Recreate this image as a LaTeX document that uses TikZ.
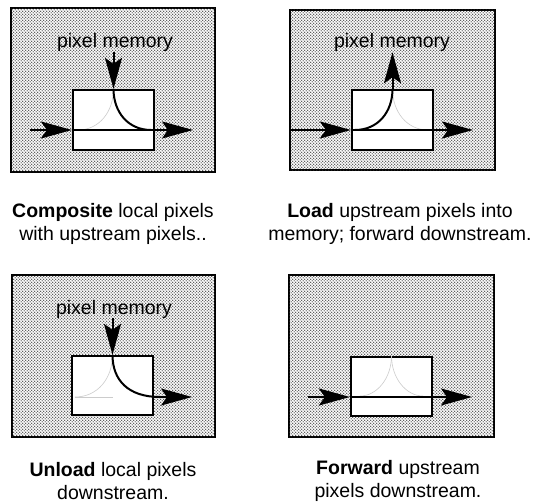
\documentclass[tikz,border=0pt]{standalone}
\usepackage{fontspec}
\setmainfont{Liberation Sans}
\usetikzlibrary{arrows.meta,patterns.meta,calc}
\tikzdeclarepattern{name=stipple, type=uncolored,
  bounding box={(0pt,0pt) and (3.4pt,3.4pt)}, tile size={(3.4pt,3.4pt)},
  code={\fill (0.85pt,0.85pt) circle (0.75pt); \fill (2.55pt,2.55pt) circle (0.75pt);}}
\begin{document}
\begin{tikzpicture}[x=1pt,y=-1pt,
  outerbox/.style={draw, line width=2.4pt, fill=white,
    postaction={pattern=stipple, pattern color=black!85},
    inner sep=0pt, minimum width=#1},
  innerbox/.style={draw, line width=2.2pt, fill=white, inner sep=0pt,
    minimum width=81pt, minimum height=#1},
  flow/.style={line width=2pt, -{Stealth[length=31pt,width=17pt,inset=6pt]}},
  plain/.style={line width=2pt},
  ghost/.style={draw=gray!40, line width=0.6pt},
  memlabel/.style={font=\fontsize{19.5}{23}\selectfont, anchor=base, inner sep=0pt},
  caption/.style={font=\fontsize{19.5}{23}\selectfont, align=center, inner sep=0pt}
]
\useasboundingbox (0,0) rectangle (535,503);

% ---------- Panel 1: Composite ----------
\node[outerbox=204pt, minimum height=164pt] (o1) at (113,90) {};
\node[innerbox=60pt] (i1) at (113.5,120) {};
\node[memlabel] (m1) at (115,48) {pixel memory};
\coordinate (l1) at (30,130);
\coordinate (r1) at (193,130);
\draw[ghost] (i1.north) .. controls (113.5,112) and (99,130) .. ([xshift=6pt,yshift=-10pt]i1.west);
\draw[flow] (m1.south -| i1.north) -- (i1.north);
\draw[flow] (l1) -- ([yshift=-10pt]i1.west);
\draw[plain] ([yshift=-10pt]i1.west) -- ([yshift=-10pt]i1.east);
\draw[plain] (i1.north) .. controls (113.5,112) and (128,130) .. ([xshift=-4pt,yshift=-10pt]i1.east);
\draw[flow] ([yshift=-10pt]i1.east) -- (r1);
\node[caption] (c1) at (113,224) {\textbf{Composite} local pixels\\with upstream pixels..};

% ---------- Panel 2: Load ----------
\node[outerbox=205pt, minimum height=160pt] (o2) at (392.5,90) {};
\node[innerbox=60pt] (i2) at (392.5,120) {};
\node[memlabel] (m2) at (392,48) {pixel memory};
\coordinate (l2) at (291,130);
\coordinate (r2) at (473,130);
\draw[ghost] (i2.north) .. controls (392.5,112) and (407,130) .. ([xshift=-6pt,yshift=-10pt]i2.east);
\draw[flow] (l2) -- ([yshift=-10pt]i2.west);
\draw[plain] ([yshift=-10pt]i2.west) -- ([yshift=-10pt]i2.east);
\draw[plain] ([xshift=4pt,yshift=-10pt]i2.west) .. controls (378,130) and (392.5,112) .. (i2.north);
\draw[flow] (i2.north) -- (m2.south -| i2.north);
\draw[flow] ([yshift=-10pt]i2.east) -- (r2);
\node[caption] (c2) at (400,224) {\textbf{Load} upstream pixels into\\memory; forward downstream.};

% ---------- Panel 3: Unload ----------
\node[outerbox=203pt, minimum height=162pt] (o3) at (113.5,356) {};
\node[innerbox=59pt] (i3) at (112.5,385.5) {};
\node[memlabel] (m3) at (114,314) {pixel memory};
\coordinate (r3) at (192,397);
\draw[ghost] (i3.north) .. controls (112.5,378) and (98,397) .. ([xshift=4pt,yshift=-11.5pt]i3.west);
\draw[ghost] ([xshift=4pt,yshift=-11.5pt]i3.west) -- (112.5,397);
\draw[flow] (m3.south -| i3.north) -- (i3.north);
\draw[plain] (i3.north) .. controls (112.5,380) and (128,397) .. (160,397);
\draw[flow] (158,397) -- (r3);
\node[caption] (c3) at (113,481) {\textbf{Unload} local pixels\\downstream.};

% ---------- Panel 4: Forward ----------
\node[outerbox=205pt, minimum height=162pt] (o4) at (391.5,356) {};
\node[innerbox=59pt] (i4) at (391.5,386.5) {};
\coordinate (l4) at (308,397);
\coordinate (r4) at (472,397);
\draw[ghost] (i4.north) .. controls (391.5,378) and (377,396) .. (360,396);
\draw[ghost] (i4.north) .. controls (391.5,378) and (406,396) .. (423,396);
\draw[flow] (l4) -- ([yshift=-10.5pt]i4.west);
\draw[plain] ([yshift=-10.5pt]i4.west) -- ([yshift=-10.5pt]i4.east);
\draw[flow] ([yshift=-10.5pt]i4.east) -- (r4);
\node[caption] (c4) at (398,481) {\textbf{Forward} upstream\\pixels downstream.};
\end{tikzpicture}
\end{document}
